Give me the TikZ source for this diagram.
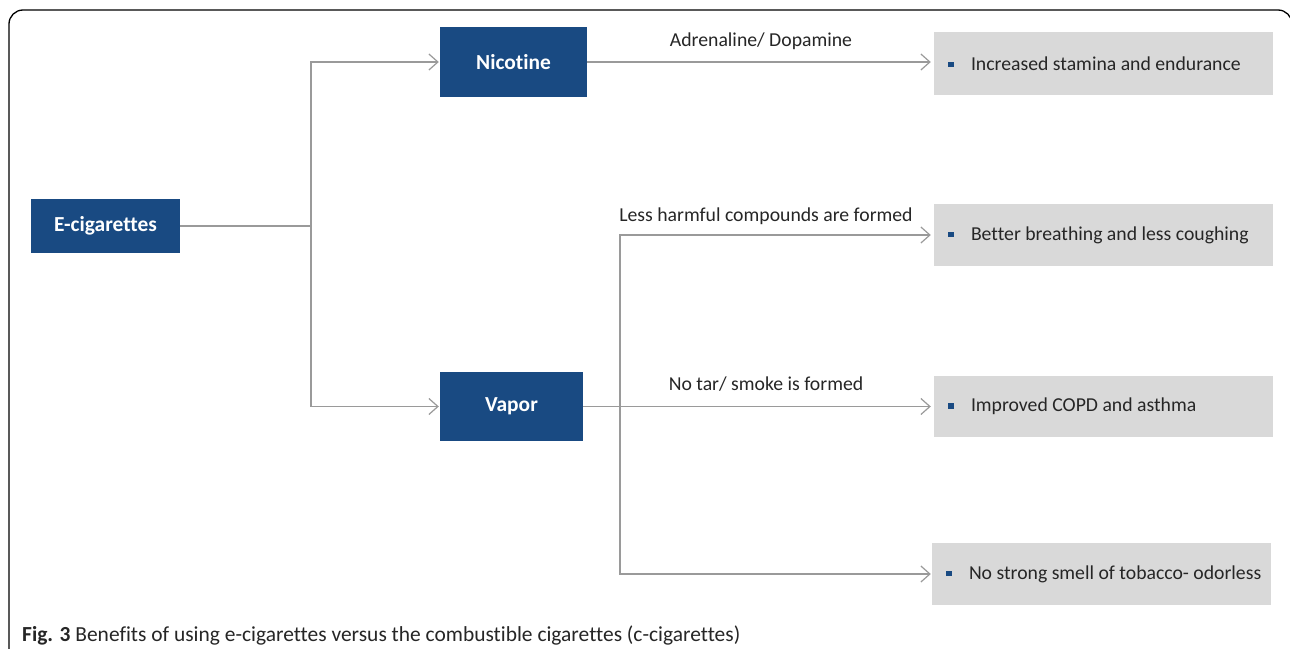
\documentclass[tikz,border=0pt]{standalone}
\usepackage{fontspec}
\setmainfont{Carlito}[Ligatures=NoCommon]
\usetikzlibrary{arrows.meta}
\definecolor{navy}{HTML}{194A82}
\definecolor{boxgray}{HTML}{D9D9D9}
\definecolor{linegray}{HTML}{9A9A9A}
\tikzset{
  bluebox/.style={fill=navy, draw=none, text=white, font=\fontsize{21.5}{24}\selectfont\bfseries, inner sep=0pt},
  graybox/.style={fill=boxgray, draw=none, inner sep=0pt},
  conn/.style={draw=linegray, line width=1.4bp},
  arr/.style={conn, -{Straight Barb[length=9bp, width=16bp, line width=1.2bp]}},
  lbl/.style={font=\fontsize{19.8}{22}\selectfont, text=black!85, inner sep=0pt},
  itemtxt/.style={font=\fontsize{19.8}{22}\selectfont, text=black!85, inner sep=0pt, anchor=west},
}
\newcommand{\bul}{\textcolor{navy}{\rule[3bp]{5.5bp}{5.5bp}}\hspace{17.5bp}}
\begin{document}
\begin{tikzpicture}[x=1bp,y=-1bp]
\clip (0,0) rectangle (1290,649);
\fill[white] (0,0) rectangle (1290,649);
% frame
\draw[line width=1.3bp, rounded corners=14bp] (9,700) -- (9,10) -- (1292,10) -- (1292,700);

% main boxes
\node[bluebox, minimum width=149bp, minimum height=54bp] (ecig) at (105.5,226) {E-cigarettes};
\node[bluebox, minimum width=147bp, minimum height=70bp] (nic) at (513.5,62) {Nicotine};
\node[bluebox, minimum width=143bp, minimum height=69bp] (vap) at (511.5,406.5) {Vapor};

% result boxes
\node[graybox, minimum width=339bp, minimum height=63bp] (r1) at (1103.5,63.5) {};
\node[graybox, minimum width=339bp, minimum height=62bp] (r2) at (1103.5,235) {};
\node[graybox, minimum width=339bp, minimum height=61bp] (r3) at (1103.5,406.5) {};
\node[graybox, minimum width=339bp, minimum height=62bp] (r4) at (1101.5,574) {};

\node[itemtxt] (t1) at ([xshift=14bp]r1.west) {\bul Increased stamina and endurance};
\node[itemtxt] (t2) at ([xshift=14bp]r2.west) {\bul Better breathing and less coughing};
\node[itemtxt] (t3) at ([xshift=14bp]r3.west) {\bul Improved COPD and asthma};
\node[itemtxt] (t4) at ([xshift=14bp]r4.west) {\bul No strong smell of tobacco- odorless};

% connectors from E-cigarettes
\coordinate (j1) at (311,226);
\draw[conn] (ecig.east) -- (j1);
\draw[arr] (j1) |- ([xshift=-1bp]nic.west);
\draw[arr] (j1) |- ([xshift=-1bp]vap.west);

% nicotine
\draw[arr] (nic.east) -- ([xshift=-3bp]r1.west |- nic.east);

% vapor
\coordinate (j2) at (620,406.5);
\draw[arr] (vap.east) -- ([xshift=-3bp]r3.west);
\draw[arr] (j2) |- ([xshift=-3bp]r2.west);
\draw[arr] (j2) |- ([xshift=-1bp]r4.west);

% labels
\node[lbl] (l1) at (761,41) {Adrenaline/ Dopamine};
\node[lbl] (l2) at (766,216) {Less harmful compounds are formed};
\node[lbl] (l3) at (766,384) {No tar/ smoke is formed};

% caption
\node[anchor=west, inner sep=0pt, text=black!85] (cap) at (22,635)
  {\resizebox{718bp}{!}{\fontsize{18}{21}\selectfont\textbf{Fig. 3} Benefits of using e-cigarettes versus the combustible cigarettes (c-cigarettes)}};
\end{tikzpicture}
\end{document}
